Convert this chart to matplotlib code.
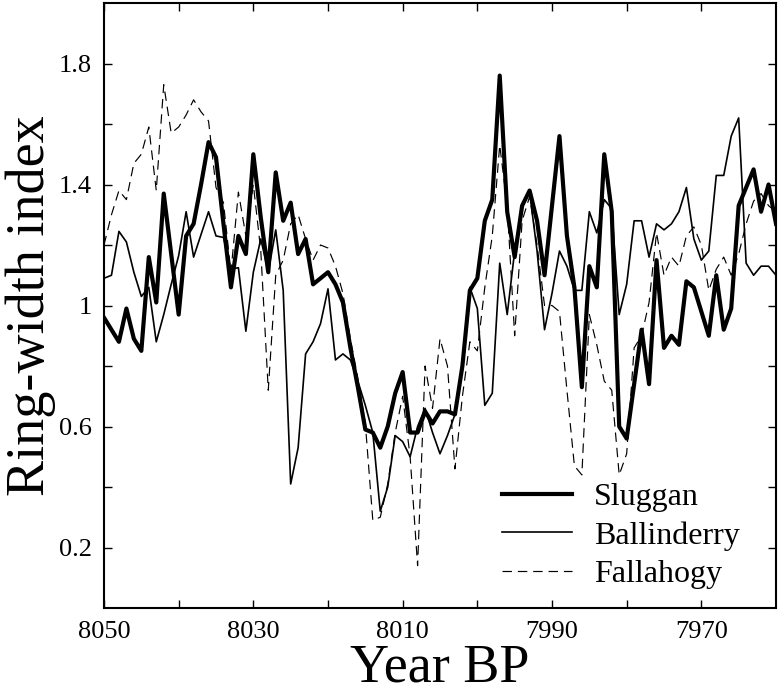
import matplotlib
matplotlib.use("Agg")
import matplotlib.pyplot as plt
import numpy as np

years = np.arange(8050, 7959, -1)

sluggan = [0.96, 0.92, 0.88, 0.99, 0.89, 0.85, 1.16, 1.01, 1.37, 1.17,
           0.97, 1.23, 1.27, 1.40, 1.54, 1.49, 1.27, 1.06, 1.23, 1.17,
           1.50, 1.29, 1.11, 1.44, 1.28, 1.34, 1.17, 1.22, 1.07, 1.09,
           1.11, 1.07, 1.01, 0.86, 0.73, 0.59, 0.58, 0.53, 0.60, 0.71,
           0.78, 0.58, 0.58, 0.65, 0.61, 0.65, 0.65, 0.64, 0.80, 1.05,
           1.09, 1.28, 1.35, 1.76, 1.31, 1.16, 1.33, 1.38, 1.28, 1.10,
           1.33, 1.56, 1.23, 1.06, 0.73, 1.13, 1.06, 1.50, 1.31, 0.60,
           0.56, 0.74, 0.92, 0.74, 1.15, 0.86, 0.90, 0.87, 1.08, 1.06,
           0.98, 0.90, 1.10, 0.92, 0.99, 1.33, 1.39, 1.45, 1.31, 1.40,
           1.27]

ballinderry = [1.09, 1.10, 1.245, 1.21, 1.11, 1.03, 1.06, 0.88, 0.97, 1.07,
               1.165, 1.31, 1.16, 1.235, 1.31, 1.23, 1.225, 1.12, 1.125, 0.915,
               1.11, 1.22, 1.11, 1.25, 1.05, 0.41, 0.53, 0.84, 0.88, 0.94,
               1.055, 0.82, 0.84, 0.82, 0.75, 0.67, 0.58, 0.32, 0.40, 0.57,
               0.55, 0.50, 0.60, 0.66, 0.58, 0.51, 0.57, 0.64, 0.80, 1.06,
               0.99, 0.67, 0.71, 1.14, 0.97, 1.18, 1.33, 1.375, 1.18, 0.92,
               1.04, 1.18, 1.13, 1.05, 1.05, 1.31, 1.24, 1.35, 1.32, 0.97,
               1.07, 1.28, 1.28, 1.16, 1.27, 1.25, 1.27, 1.31, 1.39, 1.22,
               1.15, 1.18, 1.43, 1.43, 1.56, 1.62, 1.14, 1.10, 1.13, 1.13,
               1.10]

fallahogy = [1.20, 1.30, 1.38, 1.35, 1.47, 1.50, 1.59, 1.38, 1.73, 1.57,
             1.59, 1.63, 1.68, 1.64, 1.61, 1.39, 1.34, 1.11, 1.375, 1.23,
             1.40, 1.18, 0.72, 1.10, 1.15, 1.27, 1.30, 1.22, 1.15, 1.20,
             1.19, 1.13, 1.04, 0.89, 0.76, 0.61, 0.29, 0.30, 0.41, 0.58,
             0.70, 0.50, 0.14, 0.80, 0.66, 0.89, 0.80, 0.46, 0.70, 0.88,
             0.85, 1.06, 1.23, 1.53, 1.33, 0.90, 1.28, 1.36, 1.20, 1.00,
             1.00, 0.98, 0.72, 0.47, 0.44, 0.97, 0.87, 0.75, 0.72, 0.44,
             0.51, 0.86, 0.90, 1.01, 1.24, 1.10, 1.16, 1.13, 1.23, 1.26,
             1.20, 1.05, 1.12, 1.16, 1.10, 1.17, 1.27, 1.345, 1.37, 1.33,
             1.31]

xticks = [8050, 8040, 8030, 8020, 8010, 8000, 7990, 7980, 7970]
xticklabels = ["8050", "", "8030", "", "8010", "", "7990", "", "7970"]
yticks = [0.2, 0.4, 0.6, 0.8, 1.0, 1.2, 1.4, 1.6, 1.8]
yticklabels = ["0.2", "", "0.6", "", "1", "", "1.4", "", "1.8"]

plt.rcParams['font.family'] = ['Liberation Serif', 'DejaVu Serif']

fig = plt.figure(figsize=(7.8, 6.93), dpi=100)
ax = fig.add_axes([104/780, 85/693, 672/780, 605/693])

ax.plot(years, sluggan, color='black', lw=3.0, label='Sluggan')
ax.plot(years, ballinderry, color='black', lw=1.2, label='Ballinderry')
ax.plot(years, fallahogy, color='black', lw=0.85, ls=(0, (8, 5)), label='Fallahogy')

ax.set_xlim(8050, 7960)
ax.set_ylim(0, 2.0)
ax.set_xticks(xticks)
ax.set_xticklabels(xticklabels)
ax.set_yticks(yticks)
ax.set_yticklabels(yticklabels)
ax.tick_params(direction='in', length=6, width=1, labelsize=19,
               top=True, right=True, pad=9)
for s in ax.spines.values():
    s.set_linewidth(1.5)

ax.set_xlabel('Year BP', fontsize=39, labelpad=0)
ax.set_ylabel('Ring-width index', fontsize=39, labelpad=2)

leg = ax.legend(loc='lower right', frameon=False, fontsize=23,
                handlelength=2.2, handletextpad=0.7, labelspacing=0.28,
                borderaxespad=0.2, bbox_to_anchor=(0.975, 0.0))

fig.savefig('out.png', dpi=100)
